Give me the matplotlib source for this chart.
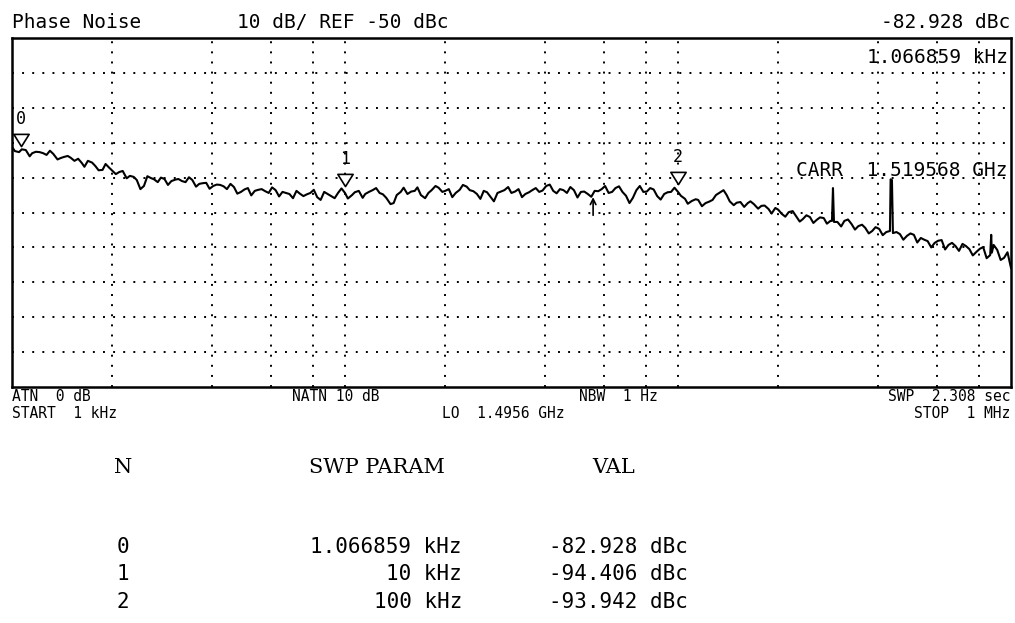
import matplotlib.pyplot as plt
from matplotlib.path import Path

# sweep points (kHz)
freq_khz = [
    1.00, 1.05, 1.10, 1.15, 1.21, 1.27, 1.33, 1.40, 1.47, 1.54, 1.62, 1.69,
    1.78, 1.87, 1.96, 2.05, 2.15, 2.26, 2.37, 2.49, 2.61, 2.74, 2.87, 3.01,
    3.16, 3.32, 3.48, 3.65, 3.83, 4.02, 4.22, 4.42, 4.64, 4.87, 5.11, 5.36,
    5.62, 5.90, 6.19, 6.49, 6.81, 7.15, 7.50, 7.87, 8.25, 8.66, 9.09, 9.53,
    10.0, 10.5, 11.0, 11.5, 12.1, 12.7, 13.3, 14.0, 14.7, 15.4, 16.2, 16.9,
    17.8, 18.7, 19.6, 20.5, 21.5, 22.6, 23.7, 24.9, 26.1, 27.4, 28.7, 30.1,
    31.6, 33.2, 34.8, 36.5, 38.3, 40.2, 42.2, 44.2, 46.4, 48.7, 51.1, 53.6,
    56.2, 59.0, 61.9, 64.9, 68.1, 71.5, 75.0, 78.7, 82.5, 86.6, 90.9, 95.3,
    100, 105, 110, 115, 121, 127, 133, 140, 147, 154, 162, 169,
    178, 187, 196, 205, 215, 226, 237, 249, 261, 274, 287, 290, 292, 294,
    301, 316, 332, 348, 365, 383, 402, 422, 433, 435, 439, 442,
    464, 487, 511, 536, 562, 590, 619, 649, 681, 715, 750, 787,
    825, 866, 872, 876, 909, 953, 1000,
]
# trace level (dBc)
level_dbc = [
    -81.2, -82.7, -82.1, -83.0, -82.7, -83.5, -83.2, -84.4, -83.8, -85.2, -85.8, -85.2,
    -86.7, -87.8, -87.2, -89.0, -88.1, -89.5, -90.7, -92.4, -90.1, -91.3, -90.4, -91.0,
    -90.4, -91.3, -90.7, -91.8, -91.5, -92.4, -92.1, -93.3, -92.7, -94.1, -93.0, -93.8,
    -93.3, -94.4, -93.6, -94.1, -94.7, -93.8, -95.3, -94.4, -95.6, -94.1, -95.3, -94.4,
    -94.4, -95.0, -93.8, -94.7, -93.6, -94.4, -95.8, -97.3, -94.1, -94.7, -93.8, -95.0,
    -94.4, -92.4, -94.1, -93.3, -94.4, -92.1, -93.6, -94.7, -93.8, -95.6, -94.4, -93.6,
    -94.4, -93.3, -94.7, -93.6, -94.1, -92.4, -93.8, -93.3, -94.4, -93.6, -94.1, -94.7,
    -93.8, -93.3, -94.4, -93.0, -94.1, -97.3, -93.6, -94.1, -93.0, -95.3, -94.7, -94.1,
    -94.1, -96.1, -96.7, -96.4, -97.3, -96.4, -94.4, -95.0, -97.9, -97.0, -97.3, -97.6,
    -98.1, -99.0, -98.7, -100.4, -99.9, -101.0, -101.9, -101.3, -102.1, -101.6, -102.4, -102.4, -93.0, -102.7,
    -102.7, -102.4, -103.3, -103.9, -104.4, -105.3, -104.7, -105.6, -105.3, -90.5, -90.7, -105.9,
    -106.2, -106.7, -106.4, -107.3, -108.2, -108.7, -107.9, -109.3, -109.6, -109.0, -110.5, -111.3,
    -109.9, -112.2, -106.4, -111.5, -110.7, -113.0, -115.9,
]
# in-between sweep points: the noise wiggle of the trace
freq_mid_khz = [
    1.02, 1.07, 1.13, 1.18, 1.24, 1.30, 1.37, 1.43, 1.50, 1.58, 1.65, 1.74,
    1.82, 1.91, 2.00, 2.10, 2.21, 2.32, 2.43, 2.55, 2.67, 2.80, 2.94, 3.09,
    3.24, 3.40, 3.57, 3.74, 3.92, 4.12, 4.32, 4.53, 4.75, 4.99, 5.23, 5.49,
    5.76, 6.04, 6.34, 6.65, 6.98, 7.32, 7.68, 8.06, 8.45, 8.87, 9.31, 9.76,
    10.2, 10.7, 11.3, 11.8, 12.4, 13.0, 13.7, 14.3, 15.0, 15.8, 16.5, 17.4,
    18.2, 19.1, 20.0, 21.0, 22.1, 23.2, 24.3, 25.5, 26.7, 28.0, 29.4, 30.9,
    32.4, 34.0, 35.7, 37.4, 39.2, 41.2, 43.2, 45.3, 47.5, 49.9, 52.3, 54.9,
    57.6, 60.4, 63.4, 66.5, 69.8, 73.2, 76.8, 80.6, 84.5, 88.7, 93.1, 97.6,
    102, 107, 113, 118, 124, 130, 137, 143, 150, 158, 165, 174,
    182, 191, 200, 210, 221, 232, 243, 255, 267, 280,
    309, 324, 340, 357, 374, 392, 412,
    453, 475, 499, 523, 549, 576, 604, 634, 665, 698, 732, 768,
    806, 845, 887, 931, 976,
]
level_mid_dbc = [
    -82.4, -81.9, -83.9, -82.6, -83.0, -82.3, -84.8, -84.1, -84.3, -84.6, -86.9, -85.7,
    -87.9, -86.1, -88.0, -88.4, -90.2, -89.8, -93.3, -89.6, -90.5, -90.0, -92.1, -90.6,
    -91.0, -89.9, -92.6, -91.6, -93.2, -92.0, -92.5, -91.8, -94.6, -93.4, -95.1, -93.5,
    -93.9, -92.8, -95.4, -94.4, -95.9, -94.6, -94.8, -93.5, -96.4, -94.7, -95.9, -93.1,
    -96.0, -94.2, -95.8, -94.1, -93.0, -94.8, -97.6, -95.0, -92.9, -94.0, -92.8, -95.9,
    -93.6, -92.9, -93.8, -95.6, -93.5, -92.6, -93.9, -96.1, -94.2, -96.8, -94.0, -92.7,
    -94.0, -95.6, -94.2, -93.0, -93.7, -92.0, -94.5, -93.6, -92.7, -95.7, -94.0, -95.5,
    -93.9, -92.4, -94.1, -92.5, -95.2, -95.8, -92.4, -94.0, -93.4, -96.3, -94.2, -92.9,
    -95.2, -97.5, -96.2, -98.2, -96.9, -95.0, -93.6, -96.8, -97.2, -98.4, -96.8, -98.9,
    -98.0, -100.3, -99.2, -101.2, -99.6, -102.6, -100.8, -103.0, -101.4, -103.2,
    -104.0, -102.0, -104.9, -103.5, -106.0, -104.2, -106.5,
    -105.6, -107.8, -106.0, -108.6, -107.8, -110.0, -108.1, -110.6, -108.7, -111.0, -109.6, -112.3,
    -110.4, -113.1, -109.3, -113.6, -111.4,
]

# marker table
marker_ids = ['0', '1', '2']
marker_freq_khz = [1.066859, 10, 100]
marker_freq_text = ['1.066859 kHz', '10 kHz', '100 kHz']
marker_val = [-82.928, -94.406, -93.942]

# the little arrow under the trace
arrow_freq_khz = 55.6
arrow_level = -95.6

W, H = 1015, 623
fig = plt.figure(figsize=(W / 100, H / 100), dpi=100)
fig.patch.set_facecolor('white')

ax = fig.add_axes([12 / W, 1 - 387 / H, 999 / W, 349 / H])
ax.set_xscale('log')
ax.set_xlim(1, 1000)
ax.set_ylim(-150, -50)
ax.set_xticks([])
ax.set_yticks([])
ax.minorticks_off()
for s in ax.spines.values():
    s.set_linewidth(1.8)
    s.set_color('black')

# dotted graticule: 10 dB steps, 2/4/6/8 per decade
dot = dict(color='black', lw=1.4, dashes=(1, 4.2), dash_capstyle='butt', zorder=1)
for lvl in range(-140, -50, 10):
    ax.axhline(lvl, **dot)
for dec in [1, 10, 100]:
    for m in [2, 4, 6, 8, 10]:
        if dec * m < 1000:
            ax.axvline(dec * m, **dot)

# merge both sweeps into one trace
trace = sorted(zip(freq_khz + freq_mid_khz, level_dbc + level_mid_dbc))
ax.plot([p[0] for p in trace], [p[1] for p in trace], color='black', lw=1.5, zorder=3)

# marker triangles + numbers
tri = Path([(-1, 0.8), (1, 0.8), (0, -0.8), (-1, 0.8)],
           [Path.MOVETO, Path.LINETO, Path.LINETO, Path.CLOSEPOLY])
mono = 'DejaVu Sans Mono'
for mid, f, v in zip(marker_ids, marker_freq_khz, marker_val):
    ax.plot(f, v + 3.7, marker=tri, ms=11, mfc='white', mec='black', mew=1.2, zorder=4)
    ax.annotate(mid, (f, v + 3.7), xytext=(0, 9), textcoords='offset points',
                ha='center', va='bottom', fontsize=12, family=mono, zorder=5)

ax.annotate('', xy=(arrow_freq_khz, arrow_level), xytext=(arrow_freq_khz, arrow_level - 5.2),
            arrowprops=dict(arrowstyle='->', color='black', lw=1.2, shrinkA=0, shrinkB=0))


def put(x, y, s, size=14, ha='left', family=mono):
    fig.text(x / W, 1 - y / H, s, ha=ha, va='baseline', fontsize=size, family=family)


# screen annotations
put(12, 28, 'Phase Noise')
put(343, 28, '10 dB/ REF -50 dBc', ha='center')
put(1010, 28, '%.3f dBc' % marker_val[0], ha='right')
put(1008, 63, '%.6f kHz' % marker_freq_khz[0], ha='right')
put(1008, 176, 'CARR  1.519568 GHz', ha='right')

put(12, 401, 'ATN  0 dB', size=10.5)
put(12, 418, 'START  1 kHz', size=10.5)
put(336, 401, 'NATN 10 dB', size=10.5, ha='center')
put(503, 418, 'LO  1.4956 GHz', size=10.5, ha='center')
put(618, 401, 'NBW  1 Hz', size=10.5, ha='center')
put(1010, 401, 'SWP  2.308 sec', size=10.5, ha='right')
put(1010, 418, 'STOP  1 MHz', size=10.5, ha='right')

# marker table below the screen
put(123, 473, 'N', size=15, ha='center', family='DejaVu Serif')
put(377, 473, 'SWP PARAM', size=15, ha='center', family='DejaVu Serif')
put(614, 473, 'VAL', size=15, ha='center', family='DejaVu Serif')
for k, (mid, ft, v) in enumerate(zip(marker_ids, marker_freq_text, marker_val)):
    yb = 553 + 27.5 * k
    put(123, yb, mid, size=15, ha='center')
    put(462, yb, ft, size=15, ha='right')
    put(618, yb, '%.3f dBc' % v, size=15, ha='center')

fig.savefig('out.png', dpi=100)
